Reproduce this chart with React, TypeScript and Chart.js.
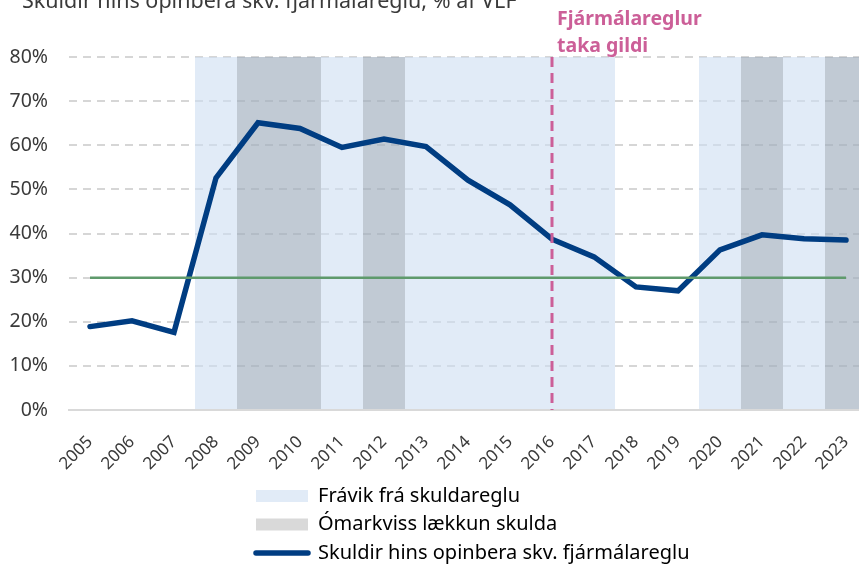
import React, { useEffect, useRef } from "react";
import { Chart, registerables } from "chart.js";

Chart.register(...registerables);

// ---- data ----
const years = ["2005", "2006", "2007", "2008", "2009", "2010", "2011", "2012", "2013", "2014", "2015", "2016", "2017", "2018", "2019", "2020", "2021", "2022", "2023"];
const debt = [18.9, 20.2, 17.6, 52.6, 65.1, 63.8, 59.5, 61.4, 59.7, 52.1, 46.5, 38.7, 34.7, 27.9, 27.0, 36.3, 39.7, 38.8, 38.5];
const debtRule = [30, 30, 30, 30, 30, 30, 30, 30, 30, 30, 30, 30, 30, 30, 30, 30, 30, 30, 30];
const deviationBand = [null, null, null, 80, 80, 80, 80, 80, 80, 80, 80, 80, 80, null, null, 80, 80, 80, 80];
const untargetedBand = [null, null, null, null, 80, 80, null, 80, null, null, null, null, null, null, null, null, 80, null, 80];
const fiscalRuleYear = "2016";
const ruleLabelLines = ["Fjármálareglur", "taka gildi"];
const titleText = "Skuldir hins opinbera skv. fjármálareglu, % af VLF";
const legendLabels = ["Frávik frá skuldareglu", "Ómarkviss lækkun skulda", "Skuldir hins opinbera skv. fjármálareglu"];
const yMin = 0;
const yMax = 80;
const yStep = 10;

// ---- style ----
const NAVY = "#003d82";
const GREEN = "#5f9a6c";
const PINK = "#cc5f98";
const BAND_BLUE = "rgba(205,222,242,0.6)";
const BAND_DARK = "rgba(0,0,0,0.14)";
const LEGEND_BLUE = "#e1ebf7";
const LEGEND_GRAY = "#d9d9d9";
const TEXT = "#3a3a3a";

const CANVAS_W = 867;
const CANVAS_H = 593;
const OFFSET_TOP = 20;
const LEGEND_LEFT = 247.5;

const layoutPlugin = {
  id: "customLayout",
  beforeLayout(chart: any) {
    const lg = chart.legend;
    if (lg && !lg.__patched) {
      const orig = lg.update.bind(lg);
      lg.update = (mw: number, mh: number, m: any) => orig(Math.min(mw, 450), mh, m);
      lg.__patched = true;
    }
  },
  afterLayout(chart: any) {
    const lg = chart.legend;
    if (lg) {
      lg.left = LEGEND_LEFT;
      lg.right = LEGEND_LEFT + 450;
    }
    const t = chart.titleBlock;
    if (t) {
      t.left = 22;
      t.right = 22 + 800;
    }
  },
};

const ruleLabelPlugin = {
  id: "ruleLabel",
  afterDraw(chart: any) {
    const { ctx, chartArea, scales } = chart;
    const px = scales.x.getPixelForValue(years.indexOf(fiscalRuleYear));
    ctx.save();
    ctx.font = 'bold 19.5px "Noto Sans"';
    ctx.fillStyle = PINK;
    ctx.textAlign = "left";
    ctx.textBaseline = "alphabetic";
    ctx.fillText(ruleLabelLines[0], px + 5, chartArea.top - 32);
    ctx.fillText(ruleLabelLines[1], px + 5, chartArea.top - 5);
    ctx.restore();
  },
};

export default function App() {
  const ref = useRef<HTMLCanvasElement | null>(null);

  useEffect(() => {
    document.body.style.margin = "0";
    Chart.defaults.font.family = '"Noto Sans", sans-serif';
    const barCommon = {
      type: "bar",
      grouped: false,
      barPercentage: 1,
      categoryPercentage: 1,
      borderWidth: 0,
      inflateAmount: 0,
    };
    const chart = new Chart(ref.current as HTMLCanvasElement, {
      type: "bar",
      data: {
        labels: years,
        datasets: [
          {
            type: "line",
            label: "Fjármálareglur taka gildi",
            data: [
              { x: fiscalRuleYear, y: yMax },
              { x: fiscalRuleYear, y: yMin },
            ],
            borderColor: PINK,
            borderWidth: 3,
            borderDash: [10, 6],
            pointRadius: 0,
            order: 0,
          } as any,
          {
            type: "line",
            label: "Skuldaregla",
            data: debtRule,
            borderColor: GREEN,
            borderWidth: 2.5,
            pointRadius: 0,
            order: 1,
          },
          {
            type: "line",
            label: legendLabels[2],
            data: debt,
            borderColor: NAVY,
            borderWidth: 5.5,
            pointRadius: 0,
            borderCapStyle: "round",
            borderJoinStyle: "miter",
            tension: 0,
            order: 2,
          },
          {
            ...barCommon,
            label: legendLabels[1],
            data: untargetedBand,
            backgroundColor: BAND_DARK,
            order: 3,
          } as any,
          {
            ...barCommon,
            label: legendLabels[0],
            data: deviationBand,
            backgroundColor: BAND_BLUE,
            order: 4,
          } as any,
        ],
      },
      options: {
        responsive: false,
        animation: false,
        devicePixelRatio: 1,
        layout: { padding: 0 },
        plugins: {
          tooltip: { enabled: false },
          title: {
            display: true,
            text: titleText,
            align: "start",
            color: TEXT,
            font: { size: 21.5, weight: "normal", lineHeight: 1.2 },
            padding: { top: 8.5, bottom: 42.7 },
          },
          legend: {
            display: true,
            position: "bottom",
            align: "start",
            labels: {
              usePointStyle: true,
              pointStyleWidth: 52,
              boxHeight: 12,
              padding: 8.5,
              color: TEXT,
              font: { size: 20 },
              generateLabels: () => [
                { text: legendLabels[0], fillStyle: LEGEND_BLUE, strokeStyle: LEGEND_BLUE, lineWidth: 0, pointStyle: "rect", hidden: false, datasetIndex: 4 },
                { text: legendLabels[1], fillStyle: LEGEND_GRAY, strokeStyle: LEGEND_GRAY, lineWidth: 0, pointStyle: "rect", hidden: false, datasetIndex: 3 },
                { text: legendLabels[2], fillStyle: NAVY, strokeStyle: NAVY, lineWidth: 5.5, lineCap: "round", pointStyle: "line", hidden: false, datasetIndex: 2 },
              ] as any,
            },
          },
        },
        scales: {
          x: {
            type: "category",
            offset: true,
            grid: { display: false, drawTicks: false, offset: true },
            border: { display: true, color: "#d9d9d9", width: 2 },
            ticks: {
              autoSkip: false,
              minRotation: 45,
              maxRotation: 45,
              padding: 22,
              color: TEXT,
              font: { size: 17 },
            },
            afterFit: (s: any) => {
              s.height = 67.5;
              s.paddingLeft = 0;
              s.paddingRight = 0;
            },
          },
          y: {
            min: yMin,
            max: yMax,
            border: { display: false, dash: [8, 6] },
            grid: { color: "#d6d6d6", lineWidth: 2, drawTicks: false },
            ticks: {
              stepSize: yStep,
              padding: 21,
              color: TEXT,
              font: { size: 19.5 },
              callback: (v: any) => `${v}%`,
            },
            afterFit: (s: any) => {
              s.width = 69;
            },
          },
        },
      },
      plugins: [layoutPlugin, ruleLabelPlugin],
    } as any);
    return () => chart.destroy();
  }, []);

  return (
    <div style={{ position: "fixed", left: 0, top: 0, width: 859, height: 565, overflow: "hidden", background: "#fff" }}>
      <canvas
        ref={ref}
        width={CANVAS_W}
        height={CANVAS_H}
        style={{ position: "absolute", left: 0, top: -OFFSET_TOP, width: CANVAS_W, height: CANVAS_H }}
      />
    </div>
  );
}
